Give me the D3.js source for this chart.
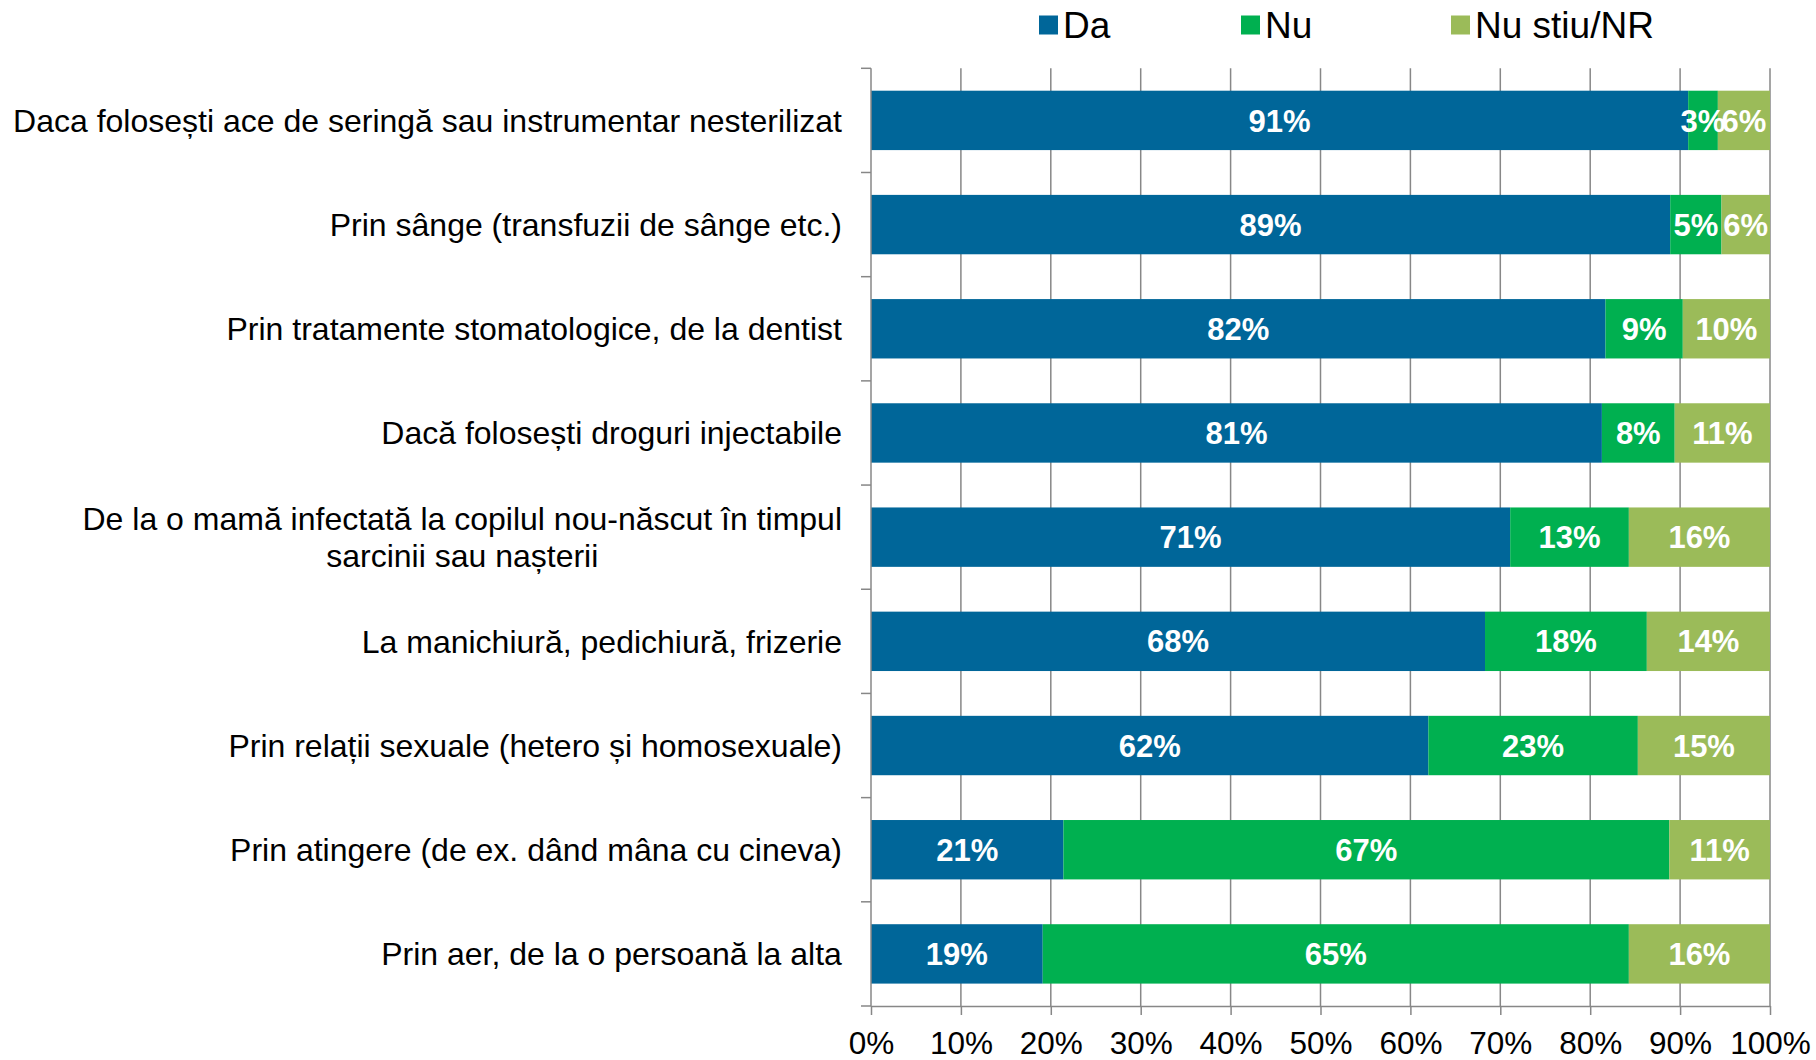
<!DOCTYPE html>
<html>
<head>
<meta charset="utf-8">
<script src="https://cdn.jsdelivr.net/npm/d3@7"></script>
<style>
  body { margin: 0; background: #fff; }
  svg { font-family: "Liberation Sans", Arial, sans-serif; }
</style>
</head>
<body>
<svg id="chart" width="1816" height="1060"></svg>
<script>
// categories, top to bottom (one array per line of the label)
var categories = [
  ["Daca folosești ace de seringă sau instrumentar nesterilizat"],
  ["Prin sânge (transfuzii de sânge etc.)"],
  ["Prin tratamente stomatologice, de la dentist"],
  ["Dacă folosești droguri injectabile"],
  ["De la o mamă infectată la copilul nou-născut în timpul", "sarcinii sau nașterii"],
  ["La manichiură, pedichiură, frizerie"],
  ["Prin relații sexuale (hetero și homosexuale)"],
  ["Prin atingere (de ex. dând mâna cu cineva)"],
  ["Prin aer, de la o persoană la alta"]
];
var series = ["Da", "Nu", "Nu stiu/NR"];
var colors = ["#006699", "#00b050", "#9bbb59"];

// segment widths (%)
var da = [90.9, 88.9, 81.7, 81.3, 71.1, 68.3, 62.0, 21.4, 19.1];
var nu = [3.3, 5.7, 8.6, 8.1, 13.2, 18.0, 23.3, 67.4, 65.2];
var nr = [5.8, 5.4, 9.7, 10.6, 15.7, 13.7, 14.7, 11.2, 15.7];

// printed labels
var daLabels = [91, 89, 82, 81, 71, 68, 62, 21, 19];
var nuLabels = [3, 5, 9, 8, 13, 18, 23, 67, 65];
var nrLabels = [6, 6, 10, 11, 16, 14, 15, 11, 16];

var xTicks = [0, 10, 20, 30, 40, 50, 60, 70, 80, 90, 100];

var svg = d3.select("#chart");
var plotLeft = 871, plotRight = 1770, plotTop = 68.3, plotBottom = 1006;
var gridColor = "#878787";

var x = d3.scaleLinear().domain([0, 100]).range([plotLeft, plotRight]);
var ids = d3.range(categories.length);
var y = d3.scaleBand().domain(ids).range([plotTop, plotBottom]).paddingInner(0.43).paddingOuter(0.215);

// build rows for stacking
var rows = ids.map(function (i) {
  var tot = da[i] + nu[i] + nr[i];
  return {
    id: i,
    "Da": da[i] / tot * 100,
    "Nu": nu[i] / tot * 100,
    "Nu stiu/NR": nr[i] / tot * 100,
    labels: [daLabels[i], nuLabels[i], nrLabels[i]]
  };
});
var stacked = d3.stack().keys(series)(rows);

// vertical gridlines
svg.append("g").selectAll("line")
  .data(xTicks.slice(1))
  .enter().append("line")
  .attr("x1", function (d) { return x(d); })
  .attr("x2", function (d) { return x(d); })
  .attr("y1", plotTop)
  .attr("y2", plotBottom)
  .attr("stroke", gridColor)
  .attr("stroke-width", 1.5);

// bars
var layer = svg.append("g").selectAll("g")
  .data(stacked)
  .enter().append("g")
  .attr("fill", function (d, i) { return colors[i]; });

layer.selectAll("rect")
  .data(function (d) { return d; })
  .enter().append("rect")
  .attr("x", function (d) { return x(d[0]); })
  .attr("width", function (d) { return x(d[1]) - x(d[0]); })
  .attr("y", function (d) { return y(d.data.id); })
  .attr("height", y.bandwidth());

// value labels
stacked.forEach(function (s, si) {
  svg.append("g").selectAll("text")
    .data(s)
    .enter().append("text")
    .attr("x", function (d) { return (x(d[0]) + x(d[1])) / 2; })
    .attr("y", function (d) { return y(d.data.id) + y.bandwidth() / 2; })
    .attr("dy", "0.36em")
    .attr("text-anchor", "middle")
    .attr("fill", "#fff")
    .attr("font-weight", "bold")
    .attr("font-size", 31)
    .text(function (d) { return d.data.labels[si] + "%"; });
});

// left axis line + ticks at band boundaries
var step = y.step();
svg.append("line")
  .attr("x1", plotLeft).attr("x2", plotLeft)
  .attr("y1", plotTop).attr("y2", plotBottom)
  .attr("stroke", gridColor).attr("stroke-width", 1.5);
svg.append("g").selectAll("line")
  .data(d3.range(categories.length + 1))
  .enter().append("line")
  .attr("x1", plotLeft - 10).attr("x2", plotLeft)
  .attr("y1", function (d) { return plotTop + d * step; })
  .attr("y2", function (d) { return plotTop + d * step; })
  .attr("stroke", gridColor).attr("stroke-width", 1.5);

// bottom axis
var xAxis = svg.append("g")
  .attr("transform", "translate(0," + plotBottom + ")")
  .call(d3.axisBottom(x).tickValues(xTicks).tickSize(9).tickSizeOuter(0)
    .tickFormat(function (d) { return d + "%"; }));
xAxis.select(".domain").attr("stroke", gridColor).attr("stroke-width", 1.5);
xAxis.selectAll(".tick line").attr("stroke", gridColor).attr("stroke-width", 1.5);
xAxis.selectAll(".tick text")
  .attr("font-size", 31.5)
  .attr("font-family", "Liberation Sans, Arial, sans-serif")
  .attr("fill", "#000")
  .attr("y", 26)
  .attr("dy", "0.71em");

// category labels
var cat = svg.append("g").selectAll("text")
  .data(ids)
  .enter().append("text")
  .attr("font-size", 32)
  .attr("fill", "#000")
  .attr("text-anchor", "middle")
  .attr("y", function (d) { return y(d) + y.bandwidth() / 2; });

cat.each(function (d) {
  var lines = categories[d];
  var t = d3.select(this);
  var n = lines.length;
  lines.forEach(function (l, li) {
    t.append("tspan").text(l)
      .attr("x", 0)
      .attr("dy", li == 0 ? ((0.36 - (n - 1) * 0.575) + "em") : "1.15em");
  });
  // right align the block, center the lines within it
  var w = this.getBBox().width;
  t.selectAll("tspan").attr("x", 842 - w / 2);
});

// legend
var legendX = [1039, 1241, 1451];
var lg = svg.append("g").selectAll("g")
  .data(series)
  .enter().append("g")
  .attr("transform", function (d, i) { return "translate(" + legendX[i] + ",25)"; });
lg.append("rect")
  .attr("x", 0).attr("y", -9.5)
  .attr("width", 19).attr("height", 19)
  .attr("fill", function (d, i) { return colors[i]; });
lg.append("text")
  .attr("x", 24)
  .attr("dy", "0.36em")
  .attr("font-size", 37)
  .attr("fill", "#000")
  .text(function (d) { return d; });
</script>
</body>
</html>
